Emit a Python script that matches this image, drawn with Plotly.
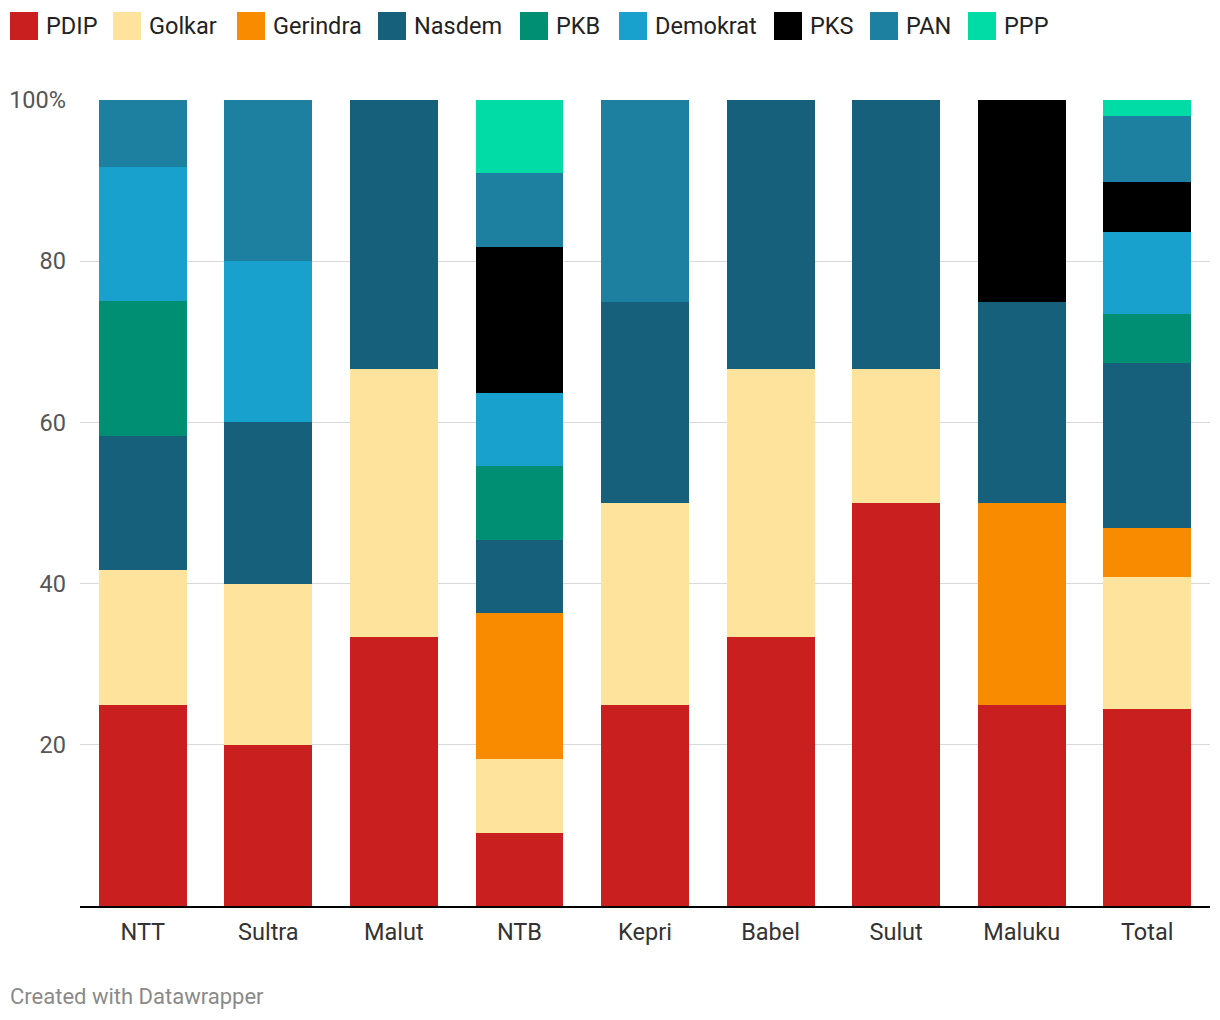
import plotly.graph_objects as go

categories = ["NTT", "Sultra", "Malut", "NTB", "Kepri", "Babel", "Sulut", "Maluku", "Total"]
parties = ["PDIP", "Golkar", "Gerindra", "Nasdem", "PKB", "Demokrat", "PKS", "PAN", "PPP"]

PDIP     = [25.0, 20.0, 33.33, 9.09, 25.0, 33.33, 50.0, 25.0, 24.49]
Golkar   = [16.67, 20.0, 33.33, 9.09, 25.0, 33.33, 16.67, 0.0, 16.33]
Gerindra = [0.0, 0.0, 0.0, 18.18, 0.0, 0.0, 0.0, 25.0, 6.12]
Nasdem   = [16.67, 20.0, 33.34, 9.09, 25.0, 33.34, 33.33, 25.0, 20.41]
PKB      = [16.67, 0.0, 0.0, 9.09, 0.0, 0.0, 0.0, 0.0, 6.12]
Demokrat = [16.66, 20.0, 0.0, 9.09, 0.0, 0.0, 0.0, 0.0, 10.20]
PKS      = [0.0, 0.0, 0.0, 18.18, 0.0, 0.0, 0.0, 25.0, 6.12]
PAN      = [8.33, 20.0, 0.0, 9.09, 25.0, 0.0, 0.0, 0.0, 8.17]
PPP      = [0.0, 0.0, 0.0, 9.10, 0.0, 0.0, 0.0, 0.0, 2.04]

series = [PDIP, Golkar, Gerindra, Nasdem, PKB, Demokrat, PKS, PAN, PPP]
colors = ["#c91f1f", "#fde39c", "#f98b00", "#17607b", "#008f72", "#18a1cd", "#000000", "#1e80a1", "#01dca7"]

y_tickvals = [20, 40, 60, 80, 100]
y_ticktext = ["20", "40", "60", "80", "100%"]

# page has an 8px body margin: figure coordinates = screen coordinates - 8
OFF = 8
W, H = 1220, 1020
L, T = 80 - OFF, 100 - OFF
pw, ph = 1130, 806
R, B = W - L - pw, H - T - ph


def px(x):
    return (x - OFF - L) / pw


def py(y):
    return (T + ph - (y - OFF)) / ph


fig = go.Figure()
for name, vals, col in zip(parties, series, colors):
    fig.add_trace(go.Bar(x=categories, y=vals, name=name, marker=dict(color=col, line=dict(width=0)),
                         showlegend=False))

# manual legend
leg_sq_x = [10, 113, 237, 378, 520, 619, 774, 870, 968]
shapes = []
annotations = []
for name, col, sx in zip(parties, colors, leg_sq_x):
    shapes.append(dict(type="rect", xref="paper", yref="paper", x0=px(sx), x1=px(sx + 28),
                       y0=py(40), y1=py(12), fillcolor=col, line=dict(width=0)))
    annotations.append(dict(xref="paper", yref="paper", x=px(sx + 34), y=py(26), text=name,
                            showarrow=False, xanchor="left", yanchor="middle",
                            font=dict(family="Roboto", size=23.5, color="#222222")))

annotations.append(dict(xref="paper", yref="paper", x=px(8), y=py(997), text="Created with Datawrapper",
                        showarrow=False, xanchor="left", yanchor="middle",
                        font=dict(family="Roboto", size=22, color="#8a8a8a")))

fig.update_layout(
    width=W, height=H,
    margin=dict(l=L, r=R, t=T, b=B, autoexpand=False),
    paper_bgcolor="white", plot_bgcolor="white",
    barmode="stack", bargap=0.3,
    font=dict(family="Roboto", size=23.5, color="#333333"),
    shapes=shapes, annotations=annotations,
    showlegend=False,
    xaxis=dict(showline=True, linecolor="#000000", linewidth=2, ticks="", showgrid=False,
               tickfont=dict(family="Roboto", size=23.5, color="#333333"), ticklabelstandoff=4),
    yaxis=dict(range=[0, 100], tickvals=y_tickvals, ticktext=y_ticktext, showgrid=True,
               gridcolor="#d9d9d9", gridwidth=1, zeroline=False, showline=False, ticks="",
               tickfont=dict(family="Roboto", size=23.5, color="#555555"), ticklabelstandoff=13),
)

fig.write_html("out.html")
